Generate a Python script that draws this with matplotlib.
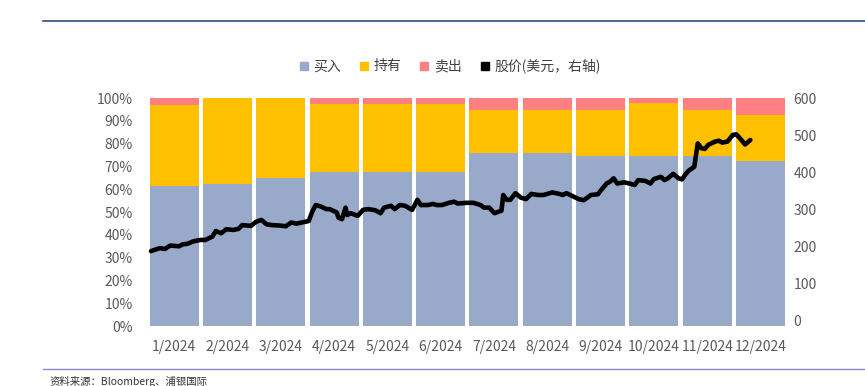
import matplotlib.pyplot as plt
import numpy as np

plt.rcParams['font.family'] = ['Noto Sans CJK SC', 'DejaVu Sans']

# Analyst rating split per month (%)
months = ['1/2024', '2/2024', '3/2024', '4/2024', '5/2024', '6/2024',
          '7/2024', '8/2024', '9/2024', '10/2024', '11/2024', '12/2024']
buy = [61.5, 62.5, 64.7, 67.5, 67.5, 67.5, 75.7, 75.7, 74.4, 74.4, 74.4, 72.5]
hold = [35.5, 37.5, 35.3, 30.0, 30.0, 30.0, 18.9, 18.9, 20.5, 23.3, 20.5, 20.0]
sell = [3.0, 0.0, 0.0, 2.5, 2.5, 2.5, 5.4, 5.4, 5.1, 2.3, 5.1, 7.5]

# Share price (USD), day of year
price_day = [2, 7, 10, 13, 18, 20, 23, 26, 30, 33, 37, 39, 42, 45, 49, 52, 54, 59,
             62, 65, 68, 71, 75, 79, 82, 85, 89, 92, 94, 96, 99, 102, 104, 108,
             109, 111, 113, 114, 116, 120, 123, 126, 130, 133, 135, 139, 141, 144,
             147, 151, 154, 156, 160, 163, 165, 168, 172, 175, 177, 182, 186, 190,
             192, 195, 198, 202, 203, 205, 207, 210, 213, 216, 219, 223, 226, 231,
             235, 237, 239, 243, 246, 249, 253, 257, 259, 262, 264, 266, 268, 272,
             275, 278, 280, 284, 287, 289, 293, 295, 297, 300, 303, 305, 307, 309,
             312, 314, 316, 318, 320, 324, 326, 328, 331, 334, 336, 338, 341, 344]
price = [188, 196, 194, 203, 201, 206, 208, 214, 218, 218, 227, 242, 236, 247, 245,
         248, 258, 256, 267, 272, 260, 258, 257, 255, 265, 262, 266, 269, 294, 312,
         308, 301, 301, 292, 278, 274, 305, 285, 290, 283, 299, 301, 298, 290, 305,
         310, 301, 312, 310, 299, 326, 312, 312, 315, 312, 312, 318, 321, 316, 318,
         318, 312, 305, 305, 290, 297, 339, 326, 326, 344, 332, 328, 342, 339, 339,
         346, 342, 339, 344, 335, 328, 325, 339, 341, 353, 370, 375, 384, 370, 373,
         370, 366, 379, 377, 370, 382, 388, 379, 384, 396, 384, 381, 395, 405, 415,
         478, 465, 463, 474, 483, 485, 480, 483, 501, 502, 492, 475, 487]

c_buy, c_hold, c_sell = '#98A9C9', '#FFC000', '#FF8080'
tick_color = '#595959'

fig = plt.figure(figsize=(8.65, 3.86), dpi=100)
ax = fig.add_axes([0.1705, 0.1554, 0.7395, 0.5907])

x = np.arange(len(months))
w = 0.92
buy_a, hold_a, sell_a = np.array(buy), np.array(hold), np.array(sell)
ax.bar(x, buy_a, w, color=c_buy, label='买入')
ax.bar(x, hold_a, w, bottom=buy_a, color=c_hold, label='持有')
ax.bar(x, sell_a, w, bottom=buy_a + hold_a, color=c_sell, label='卖出')

ax.set_xlim(-0.5, 11.5)
ax.set_ylim(0, 100)
ax.set_yticks(range(0, 101, 10))
ax.set_yticklabels([f'{v}%' for v in range(0, 101, 10)])
ax.set_xticks(x)
ax.set_xticklabels(months)
ax.tick_params(axis='y', length=0, pad=10.5, labelsize=10, labelcolor=tick_color)
ax.tick_params(axis='x', length=0, pad=10, labelsize=10, labelcolor=tick_color)
for s in ax.spines.values():
    s.set_visible(False)

ax2 = ax.twinx()
px = np.array(price_day) / (365 / 12) - 0.5
ax2.plot(px, price, color='black', lw=3.3, solid_joinstyle='round',
         solid_capstyle='round', label='股价(美元，右轴)')
ax2.set_ylim(-13.5, 600)
ax2.set_yticks(range(0, 601, 100))
ax2.tick_params(axis='y', length=0, pad=4.5, labelsize=10, labelcolor=tick_color)
for s in ax2.spines.values():
    s.set_visible(False)

# Legend with square markers
handles = [plt.Line2D([], [], marker='s', ls='', color=c, markersize=6)
           for c in (c_buy, c_hold, c_sell, 'black')]
labels = ['买入', '持有', '卖出', '股价(美元，右轴)']
fig.legend(handles, labels, loc='center', bbox_to_anchor=(0.52, 0.829), ncol=4,
           frameon=False, fontsize=10, handlelength=0.7, handletextpad=0.35,
           columnspacing=1.3, labelcolor='#404040')

# Frame lines and source note
fig.add_artist(plt.Line2D([43 / 865, 1], [1 - 21 / 386] * 2, color='#2F4A7F', lw=1.2))
fig.add_artist(plt.Line2D([43 / 865, 1], [1 - 369 / 386] * 2, color='#8A8AC8', lw=1.0))
fig.text(50 / 865, 1 - 381 / 386, '资料来源：Bloomberg、浦银国际', fontsize=7.5,
         color='#333333', va='center', ha='left')

fig.savefig('out.png', dpi=100)
